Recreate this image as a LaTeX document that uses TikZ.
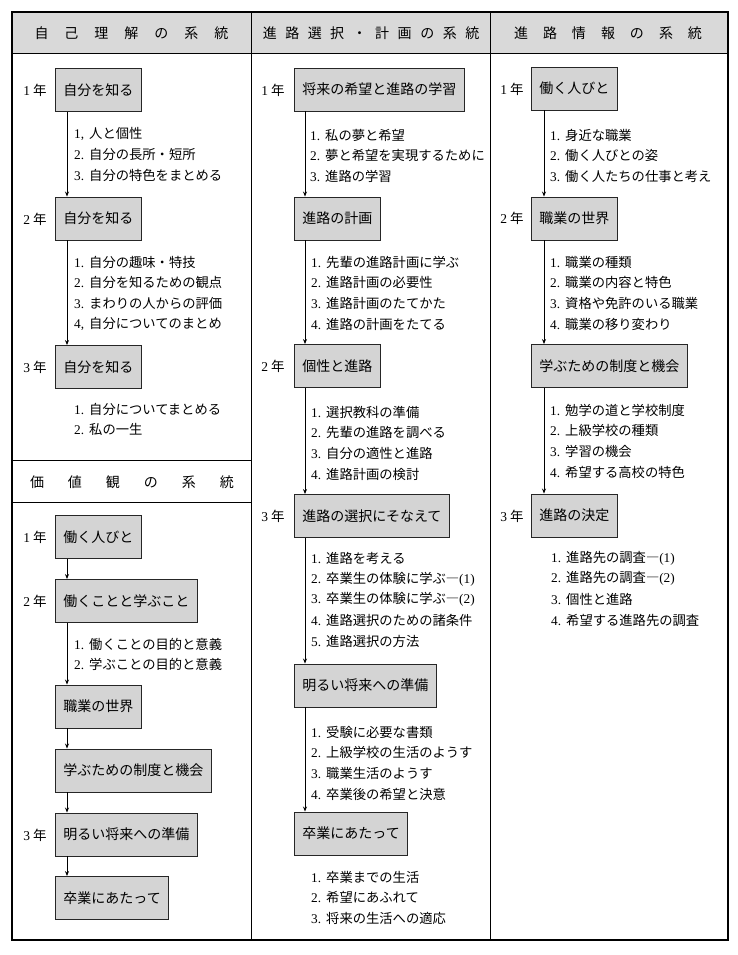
\documentclass[tikz,border=0pt]{standalone}
\usepackage{fontspec}
\setmainfont{Noto Sans CJK JP}
\newfontfamily\digf{Liberation Serif}
\usetikzlibrary{arrows.meta,calc}
\newcommand{\nm}[1]{\makebox[15pt][l]{\digf #1}}
\newcommand{\itemlist}[4]{\foreach \t [count=\k from 0] in {#4} {\node[itm] (#1-\k) at (#2,{#3+\k*20.8}) {\t};}}
\newcommand{\conn}[3]{\draw[arr] ($(#1.south west)+(#3,0)$) -- ($(#1.south west |- #2.north)+(#3,0)$);}
\begin{document}
\begin{tikzpicture}[x=1pt,y=-1pt,
  box/.style={draw=black!85,line width=0.9pt,fill=black!17,anchor=west,inner xsep=8pt,inner ysep=0pt,minimum height=43pt,font=\fontsize{14}{16}\selectfont},
  itm/.style={anchor=west,inner sep=0pt,font=\fontsize{13.3}{16}\selectfont},
  yr/.style={inner sep=0pt,font=\fontsize{13.5}{16}\selectfont},
  hdr/.style={inner sep=0pt,font=\fontsize{14}{16}\selectfont},
  arr/.style={line width=0.8pt,-{Stealth[length=5pt,width=4pt]}},
  frame/.style={line width=1.3pt},
  rule/.style={line width=1pt}]
\useasboundingbox (0,0) rectangle (737,955);
\fill[white] (0,0) rectangle (737,955);
\fill[black!15] (12,12) rectangle (728,54);
\draw[rule] (12,54) -- (728,54);
\draw[rule] (251,12) -- (251,940);
\draw[rule] (490,12) -- (490,940);
\draw[rule] (12,460) -- (251,460);
\draw[rule] (12,502) -- (251,502);
\draw[frame] (12,12) rectangle (728,940);
% headers
\node[hdr] (h1) at (131.5,33) {自\hspace{16pt}己\hspace{16pt}理\hspace{16pt}解\hspace{16pt}の\hspace{16pt}系\hspace{16pt}統};
\node[hdr] (h2) at (371,33) {進\hspace{8.5pt}路\hspace{8.5pt}選\hspace{8.5pt}択\hspace{8.5pt}・\hspace{8.5pt}計\hspace{8.5pt}画\hspace{8.5pt}の\hspace{8.5pt}系\hspace{8.5pt}統};
\node[hdr] (h3) at (608,33) {進\hspace{15pt}路\hspace{15pt}情\hspace{15pt}報\hspace{15pt}の\hspace{15pt}系\hspace{15pt}統};
\node[hdr] (h4) at (132,482) {価\hspace{24pt}値\hspace{24pt}観\hspace{24pt}の\hspace{24pt}系\hspace{24pt}統};
% left column: 自己理解
\node[box] (L1) at (55,90) {自分を知る};
\node[yr] (L1y) at (35,90) {{\digf 1} 年};
\itemlist{La}{74}{134}{{\nm{1,}人と個性},{\nm{2.}自分の長所・短所},{\nm{3.}自分の特色をまとめる}}
\node[box] (L2) at (55,218.5) {自分を知る};
\node[yr] (L2y) at (35,219) {{\digf 2} 年};
\itemlist{Lb}{74}{262}{{\nm{1.}自分の趣味・特技},{\nm{2.}自分を知るための観点},{\nm{3.}まわりの人からの評価},{\nm{4,}自分についてのまとめ}}
\node[box] (L3) at (55,367) {自分を知る};
\node[yr] (L3y) at (35,367) {{\digf 3} 年};
\itemlist{Lc}{74}{409}{{\nm{1.}自分についてまとめる},{\nm{2.}私の一生}}
\conn{L1}{L2}{12}
\conn{L2}{L3}{12}
% left column: 価値観
\node[box] (V1) at (55,537) {働く人びと};
\node[yr] (V1y) at (35,537) {{\digf 1} 年};
\node[box] (V2) at (55,601) {働くことと学ぶこと};
\node[yr] (V2y) at (35,601) {{\digf 2} 年};
\itemlist{Va}{74}{644}{{\nm{1.}働くことの目的と意義},{\nm{2.}学ぶことの目的と意義}}
\node[box] (V3) at (55,706.5) {職業の世界};
\node[box] (V4) at (55,770.5) {学ぶための制度と機会};
\node[box] (V5) at (55,834.5) {明るい将来への準備};
\node[yr] (V5y) at (35,835) {{\digf 3} 年};
\node[box] (V6) at (55,898) {卒業にあたって};
\conn{V1}{V2}{12}
\conn{V2}{V3}{12}
\conn{V3}{V4}{12}
\conn{V4}{V5}{12}
\conn{V5}{V6}{12}
% middle column
\node[box] (M1) at (294,89.5) {将来の希望と進路の学習};
\node[yr] (M1y) at (273,90) {{\digf 1} 年};
\itemlist{Ma}{310}{135}{{\nm{1.}私の夢と希望},{\nm{2.}夢と希望を実現するために},{\nm{3.}進路の学習}}
\node[box] (M2) at (294,218.5) {進路の計画};
\itemlist{Mb}{311}{262}{{\nm{1.}先輩の進路計画に学ぶ},{\nm{2.}進路計画の必要性},{\nm{3.}進路計画のたてかた},{\nm{4.}進路の計画をたてる}}
\node[box] (M3) at (294,366) {個性と進路};
\node[yr] (M3y) at (273,366) {{\digf 2} 年};
\itemlist{Mc}{311}{412}{{\nm{1.}選択教科の準備},{\nm{2.}先輩の進路を調べる},{\nm{3.}自分の適性と進路},{\nm{4.}進路計画の検討}}
\node[box] (M4) at (294,516) {進路の選択にそなえて};
\node[yr] (M4y) at (273,516) {{\digf 3} 年};
\itemlist{Md}{311}{558}{{\nm{1.}進路を考える},{\nm{2.}卒業生の体験に学ぶ―{\digf(1)}},{\nm{3.}卒業生の体験に学ぶ―{\digf(2)}},{\nm{4.}進路選択のための諸条件},{\nm{5.}進路選択の方法}}
\node[box] (M5) at (294,685.5) {明るい将来への準備};
\itemlist{Me}{311}{732}{{\nm{1.}受験に必要な書類},{\nm{2.}上級学校の生活のようす},{\nm{3.}職業生活のようす},{\nm{4.}卒業後の希望と決意}}
\node[box] (M6) at (294,833.5) {卒業にあたって};
\itemlist{Mf}{311}{877}{{\nm{1.}卒業までの生活},{\nm{2.}希望にあふれて},{\nm{3.}将来の生活への適応}}
\conn{M1}{M2}{11}
\conn{M2}{M3}{11}
\conn{M3}{M4}{11}
\conn{M4}{M5}{11}
\conn{M5}{M6}{11}
% right column
\node[box] (R1) at (531,88.5) {働く人びと};
\node[yr] (R1y) at (512,89) {{\digf 1} 年};
\itemlist{Ra}{550}{135}{{\nm{1.}身近な職業},{\nm{2.}働く人びとの姿},{\nm{3.}働く人たちの仕事と考え}}
\node[box] (R2) at (531,218.5) {職業の世界};
\node[yr] (R2y) at (512,218) {{\digf 2} 年};
\itemlist{Rb}{550}{262}{{\nm{1.}職業の種類},{\nm{2.}職業の内容と特色},{\nm{3.}資格や免許のいる職業},{\nm{4.}職業の移り変わり}}
\node[box] (R3) at (531,366) {学ぶための制度と機会};
\itemlist{Rc}{550}{410}{{\nm{1.}勉学の道と学校制度},{\nm{2.}上級学校の種類},{\nm{3.}学習の機会},{\nm{4.}希望する高校の特色}}
\node[box] (R4) at (531,515.5) {進路の決定};
\node[yr] (R4y) at (512,516) {{\digf 3} 年};
\itemlist{Rd}{551}{558}{{\nm{1.}進路先の調査―{\digf(1)}},{\nm{2.}進路先の調査―{\digf(2)}},{\nm{3.}個性と進路},{\nm{4.}希望する進路先の調査}}
\conn{R1}{R2}{13}
\conn{R2}{R3}{13}
\conn{R3}{R4}{13}
\end{tikzpicture}
\end{document}
